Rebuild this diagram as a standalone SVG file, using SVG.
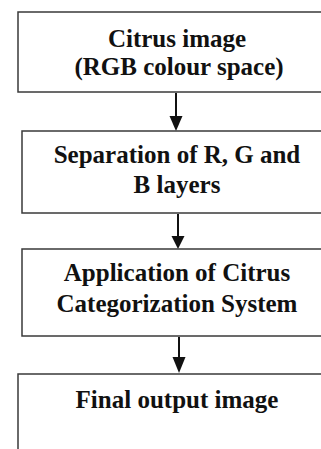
<svg xmlns="http://www.w3.org/2000/svg" width="321" height="449" viewBox="0 0 321 449">
<style>
.box{fill:#fff;stroke:#3a3a3a;stroke-width:1.5}
.t{font-family:'Liberation Serif','Times New Roman',serif;font-weight:bold;font-size:25px;fill:#111;text-anchor:middle}
.c{stroke:#111;stroke-width:2;fill:none}
</style>
<rect width="321" height="449" fill="#fff"/>
<g id="connectors">
<line class="c" x1="176" y1="93" x2="176" y2="118"/>
<path d="M169.5,116 L182.5,116 L176,131 Z" fill="#111"/>
<line class="c" x1="178" y1="214" x2="178" y2="238"/>
<path d="M171.5,236 L184.5,236 L178,249 Z" fill="#111"/>
<line class="c" x1="179" y1="337" x2="179" y2="358"/>
<path d="M172.5,357 L185.5,357 L179,373 Z" fill="#111"/>
</g>
<g id="node1">
<rect class="box" x="18" y="12" width="320" height="80"/>
<text class="t" x="177" y="47">Citrus image</text>
<text class="t" x="179" y="75">(RGB colour space)</text>
</g>
<g id="node2">
<rect class="box" x="22" y="131" width="320" height="82"/>
<text class="t" x="177" y="163">Separation of R, G and</text>
<text class="t" x="177" y="193">B layers</text>
</g>
<g id="node3">
<rect class="box" x="22" y="249" width="320" height="87"/>
<text class="t" x="177" y="281">Application of Citrus</text>
<text class="t" x="177" y="312">Categorization System</text>
</g>
<g id="node4">
<rect class="box" x="18" y="374" width="320" height="90"/>
<text class="t" x="177" y="408">Final output image</text>
</g>
</svg>
